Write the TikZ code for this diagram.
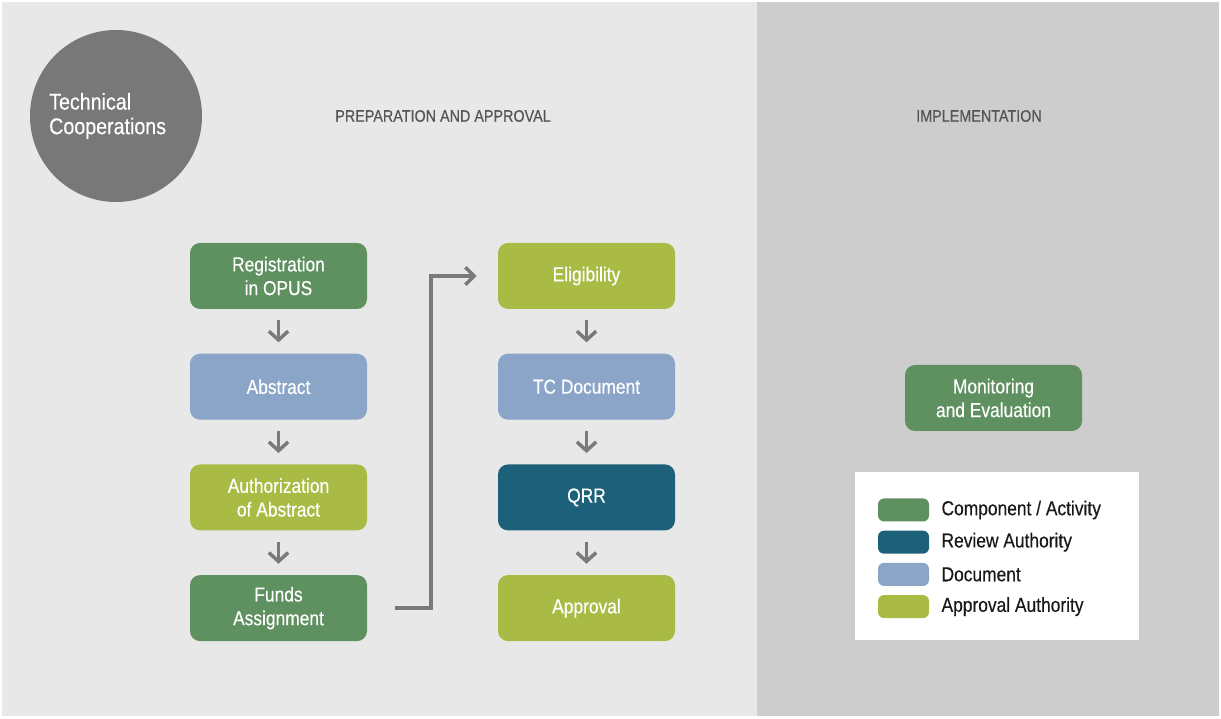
\documentclass[tikz,border=0pt]{standalone}
\usepackage{color}
\usepackage{fontspec}
\setmainfont{Liberation Sans}[FakeStretch=0.86,FakeBold=0.35]
\usepackage{tikz}
\usetikzlibrary{arrows.meta,positioning}

\definecolor{actgreen}{HTML}{5E9060}
\definecolor{revteal}{HTML}{1C6079}
\definecolor{docblue}{HTML}{8AA5C8}
\definecolor{applime}{HTML}{A9BB45}
\definecolor{leftbg}{HTML}{E8E8E8}
\definecolor{rightbg}{HTML}{CDCDCD}
\definecolor{arrowgray}{HTML}{7A7A7A}
\definecolor{circlegray}{HTML}{787878}
\definecolor{headgray}{HTML}{555555}

\begin{document}
\begin{tikzpicture}[node distance=0.88cm]
  \tikzstyle{box} = [rectangle,rounded corners=0.2cm,minimum width=3.54cm,minimum height=1.32cm,text=white,align=center,font=\fontsize{11.5}{13.5}\selectfont]
  \tikzstyle{activity} = [box,fill=actgreen]
  \tikzstyle{review} = [box,fill=revteal]
  \tikzstyle{document} = [box,fill=docblue]
  \tikzstyle{approval} = [box,fill=applime]
  \tikzstyle{head} = [text=headgray,font=\fontsize{9.5}{11}\selectfont]
  \tikzstyle{swatch} = [rectangle,rounded corners=0.12cm,minimum width=1.02cm,minimum height=0.46cm]
  \tikzstyle{legtext} = [text=black!90,anchor=west,font=\fontsize{11.5}{13.5}\selectfont]
  \tikzstyle{flow} = [draw=arrowgray,line width=2pt,shorten <=0.22cm,shorten >=0.22cm,-{Straight Barb[length=5pt,width=11pt]}]
  \tikzstyle{jump} = [draw=arrowgray,line width=2pt,shorten <=0.56cm,shorten >=0.42cm,-{Straight Barb[length=5pt,width=10pt]}]

  \fill[white] (0,0) rectangle (24.42,14.38);
  \fill[leftbg] (0.04,0.06) rectangle (15.14,14.34);
  \fill[rightbg] (15.14,0.06) rectangle (24.38,14.34);

  \node[circle,fill=circlegray,minimum size=3.44cm] (tc) at (2.32,12.06) {};
  \node[text=white,align=left,anchor=west,font=\fontsize{13}{14}\selectfont] (tctext) at (0.86,12.06) {Technical\\Cooperations};

  \node[head] (prep) at (8.86,12.06) {PREPARATION AND APPROVAL};
  \node[head] (impl) at (19.58,12.06) {IMPLEMENTATION};

  \node[activity] (reg) at (5.57,8.86) {Registration\\in OPUS};
  \node[document,below=of reg] (abs) {Abstract};
  \node[approval,below=of abs] (auth) {Authorization\\of Abstract};
  \node[activity,below=of auth] (funds) {Funds\\Assignment};

  \node[approval] (elig) at (11.73,8.86) {Eligibility};
  \node[document,below=of elig] (tcdoc) {TC Document};
  \node[review,below=of tcdoc] (qrr) {QRR};
  \node[approval,below=of qrr] (appr) {Approval};

  \node[activity] (mon) at (19.87,6.42) {Monitoring\\and Evaluation};

  \draw[flow] (reg) -- (abs);
  \draw[flow] (abs) -- (auth);
  \draw[flow] (auth) -- (funds);
  \draw[flow] (elig) -- (tcdoc);
  \draw[flow] (tcdoc) -- (qrr);
  \draw[flow] (qrr) -- (appr);

  \coordinate (turn) at (8.62,0);
  \draw[jump] (funds.east) -- (funds.east -| turn) |- (elig.west);

  \fill[white] (17.10,1.58) rectangle (22.78,4.94);
  \node[swatch,fill=actgreen] (sw1) at (18.07,4.18) {};
  \node[swatch,fill=revteal,below=0.17cm of sw1] (sw2) {};
  \node[swatch,fill=docblue,below=0.17cm of sw2] (sw3) {};
  \node[swatch,fill=applime,below=0.17cm of sw3] (sw4) {};
  \node[legtext,right=0.12cm of sw1] (lg1) {Component / Activity};
  \node[legtext,right=0.12cm of sw2] (lg2) {Review Authority};
  \node[legtext,right=0.12cm of sw3] (lg3) {Document};
  \node[legtext,right=0.12cm of sw4] (lg4) {Approval Authority};
\end{tikzpicture}
\end{document}
